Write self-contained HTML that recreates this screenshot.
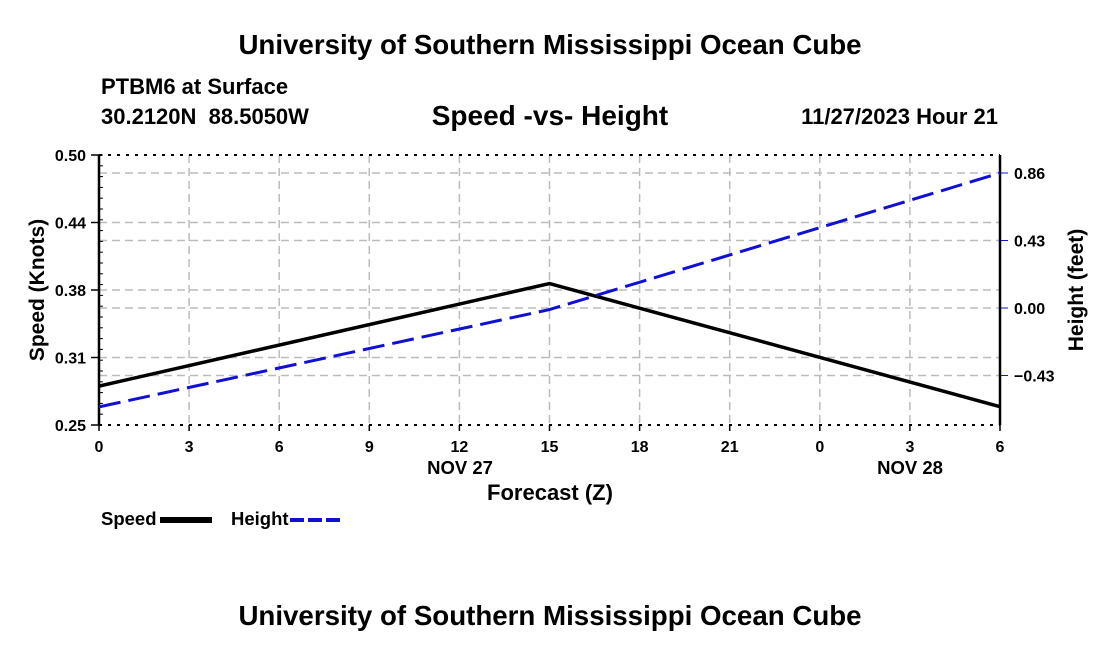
<!DOCTYPE html>
<html><head><meta charset="utf-8"><style>
body{margin:0;background:#fff;width:1100px;height:650px;overflow:hidden}
svg text{font-family:"Liberation Sans",Arial,sans-serif;font-weight:bold;fill:#000;white-space:pre}
</style></head><body>
<svg id="chart" width="1100" height="650" xmlns="http://www.w3.org/2000/svg">
<text x="550" y="54" font-size="27.7" text-anchor="middle">University of Southern Mississippi Ocean Cube</text>
<text x="101" y="94" font-size="22">PTBM6 at Surface</text>
<text x="101" y="124" font-size="22" xml:space="preserve">30.2120N  88.5050W</text>
<text x="550" y="125" font-size="28" text-anchor="middle">Speed -vs- Height</text>
<text x="998" y="124" font-size="22" text-anchor="end">11/27/2023 Hour 21</text>
<text x="550" y="625" font-size="27.7" text-anchor="middle">University of Southern Mississippi Ocean Cube</text>
<g id="grid"></g><g id="axes"></g><g id="series"></g>
<text transform="translate(44,290) rotate(-90)" font-size="21" text-anchor="middle">Speed (Knots)</text>
<text transform="translate(1083,290) rotate(-90)" font-size="21" text-anchor="middle">Height (feet)</text>
<text x="550" y="500" font-size="22" text-anchor="middle">Forecast (Z)</text>
<text x="460" y="474" font-size="18.5" text-anchor="middle">NOV 27</text>
<text x="910" y="474" font-size="18.5" text-anchor="middle">NOV 28</text>
<g>
<text x="101" y="525" font-size="18.5">Speed</text>
<line x1="160" y1="520" x2="212" y2="520" stroke="#000" stroke-width="6"/>
<text x="231" y="525" font-size="18.5">Height</text>
<line x1="290" y1="520" x2="342" y2="520" stroke="#1010d0" stroke-width="4" stroke-dasharray="14,4"/>
</g>
</svg>
<script>
const hours=[0,15,30];
const speedVals=[0.286,0.381,0.267];
const heightVals=[-0.63,-0.01,0.86];
const xTickLabels=["0","3","6","9","12","15","18","21","0","3","6"];
const leftTicks=[0.25,0.3125,0.375,0.4375,0.5];
const leftTickLabels=["0.25","0.31","0.38","0.44","0.50"];
const rightTicks=[-0.43,0,0.43,0.86];
const rightTickLabels=["\u22120.43","0.00","0.43","0.86"];

const L=99,R=1000,T=155,B=425;
const xs=h=>L+(R-L)*h/30;
const ys=v=>B-(B-T)*(v-0.25)/0.25;
const yh=v=>308-v*(67.5/0.43);
const NS="http://www.w3.org/2000/svg";
function mk(tag,attrs,parent){const e=document.createElementNS(NS,tag);for(const k in attrs)e.setAttribute(k,attrs[k]);parent.appendChild(e);return e;}
const grid=document.getElementById('grid'),axes=document.getElementById('axes'),series=document.getElementById('series');
const gs={stroke:"#bbb","stroke-width":1.5,"stroke-dasharray":"8,5"};
xTickLabels.forEach((t,i)=>{const x=xs(i*3);
 if(i>0&&i<10){const g=mk('line',Object.assign({x1:x,x2:x,y1:T,y2:B},gs),grid);
 
 }
 const tk=mk('line',{x1:x,x2:x,y1:B,y2:B+6,stroke:"#000","stroke-width":1.5},axes);
 
 
 const tx=mk('text',{x:x,y:B+27,"font-size":16,"text-anchor":"middle"},axes);tx.textContent=t;
 
 
});
leftTicks.forEach((v,i)=>{const y=ys(v);
 if(i>0&&i<4){const g=mk('line',Object.assign({x1:L,x2:R,y1:y,y2:y},gs),grid);
 
 }
 const tk=mk('line',{x1:L-8,x2:L,y1:y,y2:y,stroke:"#000","stroke-width":1.5},axes);
 
 
 const tx=mk('text',{x:L-13,y:y+6,"font-size":16,"text-anchor":"end"},axes);tx.textContent=leftTickLabels[i];
 
 
});
for(let y=T;y<=B;y+=270/25){mk('line',{x1:L,x2:L+4,y1:y,y2:y,stroke:"#000","stroke-width":1},axes);}
rightTicks.forEach((v,i)=>{const y=yh(v);
 const g=mk('line',Object.assign({x1:L,x2:R,y1:y,y2:y},gs),grid);
 
 
 const tk=mk('line',{x1:R,x2:R+8,y1:y,y2:y,stroke:"#1010d0","stroke-width":1},axes);
 
 
 const tx=mk('text',{x:R+14,y:y+6,"font-size":16},axes);tx.textContent=rightTickLabels[i];
 
 
});
[[L,T,R,T],[L,B,R,B]].forEach(c=>{const l=mk('line',{x1:c[0],y1:c[1],x2:c[2],y2:c[3],stroke:"#000","stroke-width":2,"stroke-dasharray":"3,6"},axes);
 
 });
[[L,T,L,B],[R,T,R,B]].forEach(c=>{const l=mk('line',{x1:c[0],y1:c[1],x2:c[2],y2:c[3],stroke:"#000","stroke-width":2.5},axes);
 
 });
const sp=mk('polyline',{points:hours.map((h,i)=>xs(h)+","+ys(speedVals[i])).join(" "),fill:"none",stroke:"#000","stroke-width":3.5},series);


const hp=mk('polyline',{points:hours.map((h,i)=>xs(h)+","+yh(heightVals[i])).join(" "),fill:"none",stroke:"#1010d0","stroke-width":3,"stroke-dasharray":"22,8"},series);


</script>
</body></html>
